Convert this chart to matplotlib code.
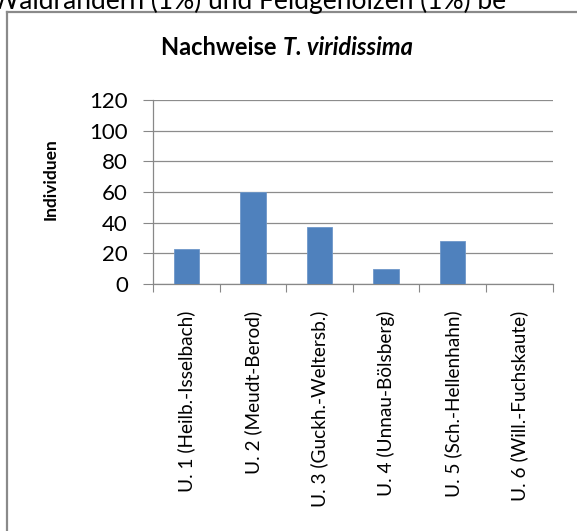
import matplotlib
matplotlib.use('Agg')
from matplotlib import pyplot as plt
from matplotlib.lines import Line2D

# Nachweise je Untersuchungsfläche
stations = ['U. 1 (Heilb.-Isselbach)', 'U. 2 (Meudt-Berod)', 'U. 3 (Guckh.-Weltersb.)',
            'U. 4 (Unnau-Bölsberg)', 'U. 5 (Sch.-Hellenhahn)', 'U. 6 (Will.-Fuchskaute)']
individuen = [23, 60, 37, 10, 28, 0]
y_ticks = [0, 20, 40, 60, 80, 100, 120]

plt.rcParams['font.family'] = ['Lato', 'DejaVu Sans']

fig = plt.figure(figsize=(5.77, 5.31), dpi=100)
ax = fig.add_axes([0.265, 0.465, 0.693, 0.347])

x = range(len(stations))
ax.bar(x, individuen, width=0.38, color='#4F81BD', edgecolor='#6E97C9', linewidth=0.6, zorder=3)

ax.set_xlim(-0.5, len(stations) - 0.5)
ax.set_ylim(0, 120)
ax.set_yticks(y_ticks)
ax.tick_params(axis='y', labelsize=16, length=7, width=0.8, color='#888888', pad=11)
ax.set_xticks([i - 0.5 for i in range(len(stations) + 1)], minor=False)
ax.set_xticklabels([''] * (len(stations) + 1))
ax.set_xticks(list(x), minor=True)
ax.set_xticklabels(stations, minor=True, rotation=90, fontsize=13.7)
ax.tick_params(axis='x', which='major', length=6, width=0.8, color='#888888', direction='out')
ax.tick_params(axis='x', which='minor', length=0, pad=19)

ax.grid(True, axis='y', color='#8c8c8c', linewidth=0.9, zorder=0)
for side in ['top', 'right']:
    ax.spines[side].set_visible(False)
for side in ['left', 'bottom']:
    ax.spines[side].set_color('#888888')
    ax.spines[side].set_linewidth(0.9)

ax.set_ylabel('Individuen', fontsize=12.5, fontweight='bold')
ax.yaxis.set_label_coords(-0.235, 0.57)

fig.text(0.49, 0.911, 'Nachweise ', ha='right', va='center', fontsize=17, fontweight='bold')
fig.text(0.49, 0.911, 'T. viridissima', ha='left', va='center', fontsize=17,
         fontweight='bold', style='italic')

# Rahmen des Diagrammobjekts und angeschnittene Textzeile darüber
fig.add_artist(Line2D([7 / 577, 7 / 577], [0, 1 - 12 / 531], color='#8a8a8a', linewidth=1.6))
fig.add_artist(Line2D([7 / 577, 1], [1 - 12 / 531, 1 - 12 / 531], color='#8a8a8a', linewidth=1.6))
fig.text(-8 / 577, 1 - 9 / 531, 'Waldrändern (1%) und Feldgehölzen (1%) be', ha='left',
         va='baseline', fontsize=19)

fig.savefig('out.png', dpi=100)
